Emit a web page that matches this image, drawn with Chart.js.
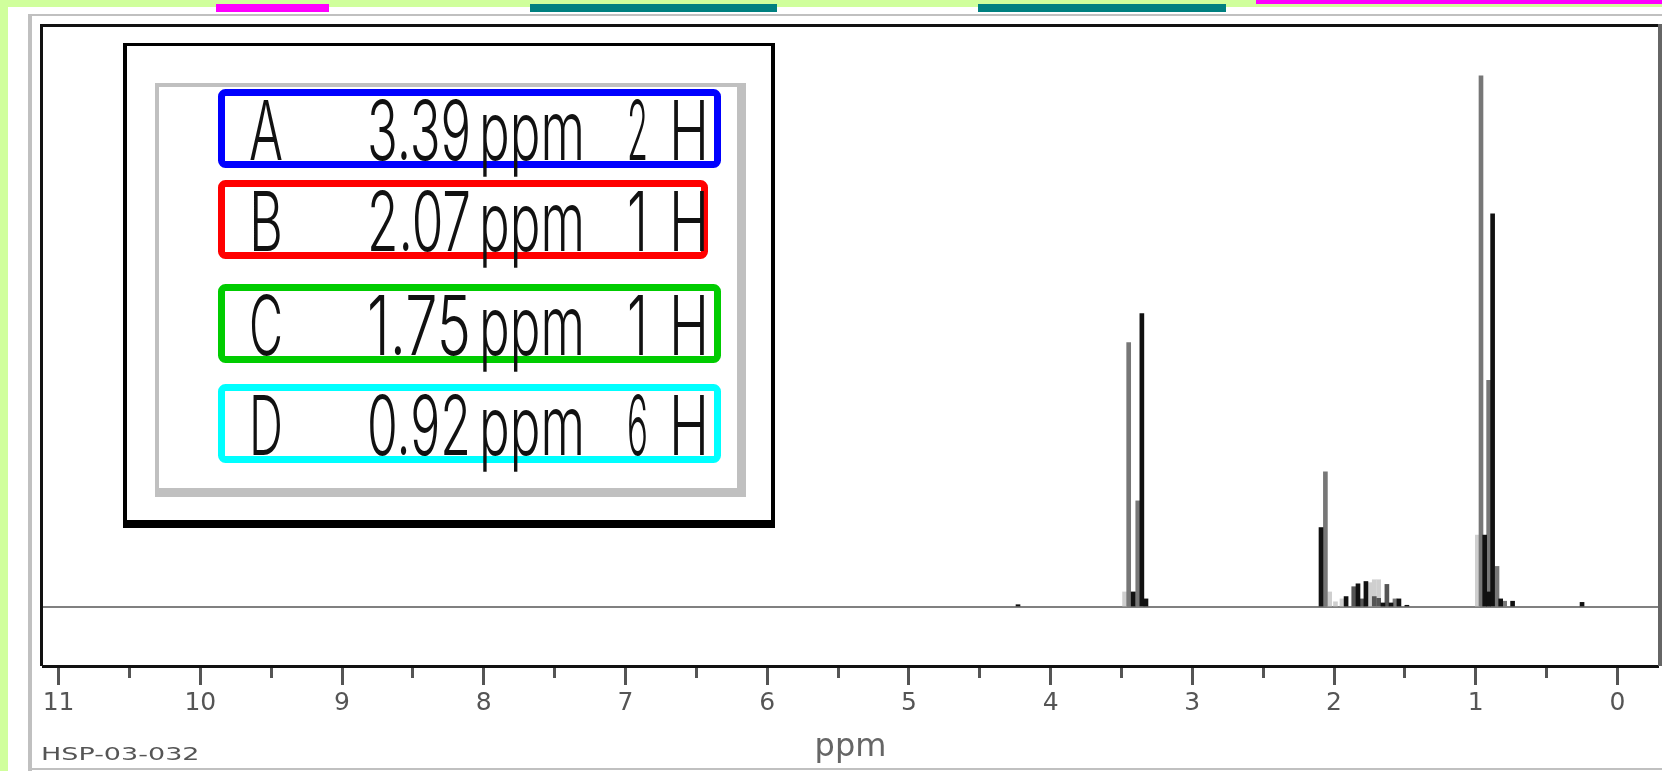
<!DOCTYPE html>
<html>
<head>
<meta charset="utf-8">
<title>HSP-03-032</title>
<script src="https://cdn.jsdelivr.net/npm/chart.js@4.4.1/dist/chart.umd.min.js"></script>
<style>
  html, body { margin: 0; padding: 0; background: #fff; }
  #wrap { width: 1662px; height: 771px; }
</style>
</head>
<body>
<div id="wrap"><canvas id="nmr" width="1662" height="771"></canvas></div>
<script>
// ppm range shown on the (reversed) x axis
const ppmLeft = 11.11;
const ppmRight = -0.286;
const ppmTicks = [11, 10, 9, 8, 7, 6, 5, 4, 3, 2, 1, 0];

// spectrum sticks, grouped by how dark they are drawn
const blackPpm = [4.23, 3.417, 3.356, 3.327, 2.092, 1.915, 1.831, 1.775, 1.655, 1.598, 1.542, 1.486, 0.937, 0.909, 0.881, 0.824, 0.74, 0.25];
const blackInt = [0.4, 2.6, 50.6, 1.4, 13.7, 1.8, 4.0, 4.4, 0.7, 0.7, 1.4, 0.3, 12.4, 2.6, 67.8, 1.4, 1.0, 0.8];
const darkPpm = [1.861, 1.803, 1.716, 1.685, 1.627];
const darkInt = [3.5, 1.4, 1.8, 1.5, 3.9];
const grayPpm = [3.449, 3.385, 2.061, 1.570, 0.963, 0.909, 0.850, 0.796];
const grayInt = [45.6, 18.3, 23.3, 1.4, 91.6, 39.1, 7.0, 1.0];
const lightPpm = [3.478, 2.031, 1.99, 1.944, 1.747, 1.716, 1.685, 0.989];
const lightInt = [2.6, 2.6, 0.9, 1.4, 4.2, 4.7, 4.7, 12.4];

// peak table in the box
const peakLetters = ['A', 'B', 'C', 'D'];
const peakShifts = [3.39, 2.07, 1.75, 0.92];
const peakProtons = [2, 1, 1, 6];

const sampleId = 'HSP-03-032';

function sticks(ppm, vals) {
    return ppm.map(function (p, i) { return { x: p, y: vals[i] }; });
}

// window decoration round the plot
const pageFrame = {
    id: 'pageFrame',
    beforeDraw(chart) {
        const c = chart.ctx;
        c.save();
        c.fillStyle = '#fff';
        c.fillRect(0, 0, chart.width, chart.height);
        c.fillStyle = '#d0ff9c';
        c.fillRect(0, 0, chart.width, 7);
        c.fillRect(0, 0, 8, chart.height);
        c.fillStyle = '#ff00ff';
        c.fillRect(216, 4, 113, 8);
        c.fillRect(1256, 0, 406, 4);
        c.fillStyle = '#008080';
        c.fillRect(530, 4, 247, 8);
        c.fillRect(978, 4, 248, 8);
        c.fillStyle = '#c0c0c0';
        c.fillRect(28, 14, 1634, 2);
        c.fillRect(28, 14, 4, 757);
        c.fillRect(28, 768, 1634, 2);
        c.restore();
    },
    afterDraw(chart) {
        const c = chart.ctx;
        const a = chart.chartArea;
        c.save();
        // plot frame
        c.fillStyle = '#111';
        c.fillRect(a.left - 3, a.top - 3, a.right - a.left + 3, 3);
        c.fillRect(a.left - 3, a.top - 3, 3, a.bottom - a.top + 3);
        c.fillStyle = '#666';
        c.fillRect(a.right, a.top - 3, 4, a.bottom - a.top + 3);

        // sample id
        c.fillStyle = '#555';
        c.font = '18px "DejaVu Sans", sans-serif';
        c.textBaseline = 'alphabetic';
        c.translate(41, 760);
        c.scale(1.5, 1);
        c.fillText(sampleId, 0, 0);
        c.restore();

        // peak table box
        c.save();
        c.fillStyle = '#000';
        c.fillRect(123, 43, 652, 485);
        c.fillStyle = '#fff';
        c.fillRect(127, 46, 644, 474);
        c.fillStyle = '#c0c0c0';
        c.fillRect(155, 83, 591, 414);
        c.fillStyle = '#fff';
        c.fillRect(159, 87, 578, 401);

        const boxColors = ['#0000ff', '#ff0000', '#00cc00', '#00ffff'];
        const boxTop = [89, 180, 284, 384];
        const boxWidth = [503, 490, 503, 503];
        c.lineWidth = 7;
        c.font = '300 82px Inter, "DejaVu Sans", sans-serif';
        c.textBaseline = 'alphabetic';
        c.textAlign = 'left';
        peakLetters.forEach(function (letter, i) {
            c.strokeStyle = boxColors[i];
            c.beginPath();
            c.roundRect(218 + 3.5, boxTop[i] + 3.5, boxWidth[i] - 7, 79 - 7, 4);
            c.stroke();
            const base = boxTop[i] + 71;
            c.fillStyle = '#111';
            c.fillText(letter, 249, base, 34);
            c.fillText(peakShifts[i].toFixed(2), 367, base, 104);
            c.fillText('ppm', 479, base, 106);
            c.fillText(String(peakProtons[i]), 627, base, 21);
            c.fillText('H', 669, base, 40);
        });
        c.restore();
    }
};

const ctx = document.getElementById('nmr').getContext('2d');
const barOpts = { barThickness: 4, grouped: false, borderWidth: 0 };

new Chart(ctx, {
    type: 'bar',
    data: {
        datasets: [
            Object.assign({ label: 'black', data: sticks(blackPpm, blackInt), backgroundColor: '#111' }, barOpts),
            Object.assign({ label: 'dark', data: sticks(darkPpm, darkInt), backgroundColor: '#555' }, barOpts),
            Object.assign({ label: 'gray', data: sticks(grayPpm, grayInt), backgroundColor: '#777' }, barOpts),
            Object.assign({ label: 'light', data: sticks(lightPpm, lightInt), backgroundColor: '#cfcfcf' }, barOpts)
        ]
    },
    options: {
        responsive: false,
        animation: false,
        devicePixelRatio: 1,
        layout: { padding: { left: 43, right: 4, top: 27, bottom: 0 } },
        plugins: {
            legend: { display: false },
            tooltip: { enabled: false }
        },
        scales: {
            x: {
                type: 'linear',
                reverse: true,
                min: ppmRight,
                max: ppmLeft,
                offset: false,
                afterFit: function (s) { s.height = 105; },
                border: { display: true, color: '#111', width: 3 },
                grid: {
                    offset: false,
                    drawOnChartArea: false,
                    drawTicks: true,
                    tickLength: 19,
                    tickWidth: 3,
                    tickColor: '#555',
                    tickBorderDash: function (c) {
                        return (c.tick && c.tick.value % 1 !== 0) ? [10, 100] : [];
                    }
                },
                ticks: {
                    stepSize: 0.5,
                    includeBounds: false,
                    autoSkip: false,
                    maxRotation: 0,
                    padding: 3,
                    color: '#555',
                    font: { family: '"DejaVu Sans", sans-serif', size: 25 },
                    callback: function (v) { return ppmTicks.includes(v) ? String(v) : ''; }
                },
                title: {
                    display: true,
                    text: 'ppm',
                    color: '#666',
                    font: { family: '"DejaVu Sans", sans-serif', size: 32 },
                    padding: { top: 0, bottom: 4 }
                }
            },
            y: {
                type: 'linear',
                min: -10.17,
                max: 100,
                afterFit: function (s) { s.width = 0; },
                border: { display: false },
                grid: {
                    drawTicks: false,
                    lineWidth: 2,
                    color: function (c) {
                        return (c.tick && c.tick.value === 0) ? '#808080' : 'rgba(0,0,0,0)';
                    }
                },
                ticks: { display: false, stepSize: 10, includeBounds: false }
            }
        }
    },
    plugins: [pageFrame]
});
</script>
</body>
</html>
